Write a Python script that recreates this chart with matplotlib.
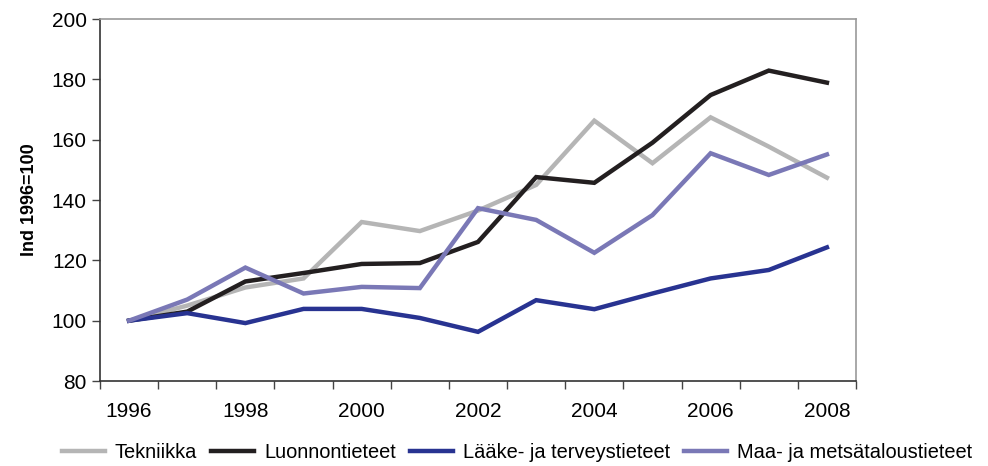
import matplotlib
matplotlib.use('Agg')
import matplotlib.pyplot as plt
import numpy as np

plt.rcParams['font.family'] = ['Liberation Sans', 'DejaVu Sans']

years = [1996, 1997, 1998, 1999, 2000, 2001, 2002, 2003, 2004, 2005, 2006, 2007, 2008]
tekniikka = [100, 105, 111, 114, 132.7, 129.7, 136.5, 145, 166.3, 152.2, 167.4, 157.7, 147.4]
luonnontieteet = [100, 103, 113, 115.8, 118.8, 119.1, 126.1, 147.6, 145.7, 159, 174.8, 182.9, 178.9]
laake = [100, 102.5, 99.2, 103.9, 103.9, 100.9, 96.3, 106.8, 103.8, 109, 114, 116.8, 124.3]
maa = [100, 107, 117.6, 109, 111.2, 110.8, 137.3, 133.4, 122.5, 135, 155.5, 148.3, 155.1]

names = ['Tekniikka', 'Luonnontieteet', 'Lääke- ja terveystieteet', 'Maa- ja metsätaloustieteet']
colors = ['#B5B5B5', '#231F20', '#283391', '#7A78B6']

fig = plt.figure(figsize=(9.88, 4.66), dpi=100)
ax = fig.add_axes([0.1012, 0.1824, 0.7652, 0.7768])

x = np.arange(len(years))
for vals, name, c in zip([tekniikka, luonnontieteet, laake, maa], names, colors):
    ax.plot(x, vals, color=c, lw=3.2, label=name, solid_joinstyle='miter')

ax.set_xlim(-0.5, len(years) - 0.5)
ax.set_ylim(80, 200)
ax.set_yticks(range(80, 201, 20))
ax.set_xticks(x[::2])
ax.set_xticklabels([str(y) for y in years[::2]])
ax.set_xticks(np.arange(-0.5, len(years), 1), minor=True)
ax.tick_params(axis='x', which='major', length=0, labelsize=15, pad=15)
ax.tick_params(axis='x', which='minor', length=6, width=1, color='#444444', direction='out')
ax.tick_params(axis='y', length=6, width=1, color='#444444', labelsize=15, pad=3.5)

for s in ['left', 'bottom']:
    ax.spines[s].set_color('#333333')
    ax.spines[s].set_linewidth(1.2)
for s in ['top', 'right']:
    ax.spines[s].set_color('#999999')
    ax.spines[s].set_linewidth(1.2)

ax.set_ylabel('Ind 1996=100', fontsize=13, fontweight='bold', labelpad=10)

fig.legend(loc='center', bbox_to_anchor=(0.523, 0.028), ncol=4, frameon=False,
           fontsize=14.4, handlelength=2.15, handletextpad=0.5, columnspacing=0.7)

fig.savefig('out.png', dpi=100)
